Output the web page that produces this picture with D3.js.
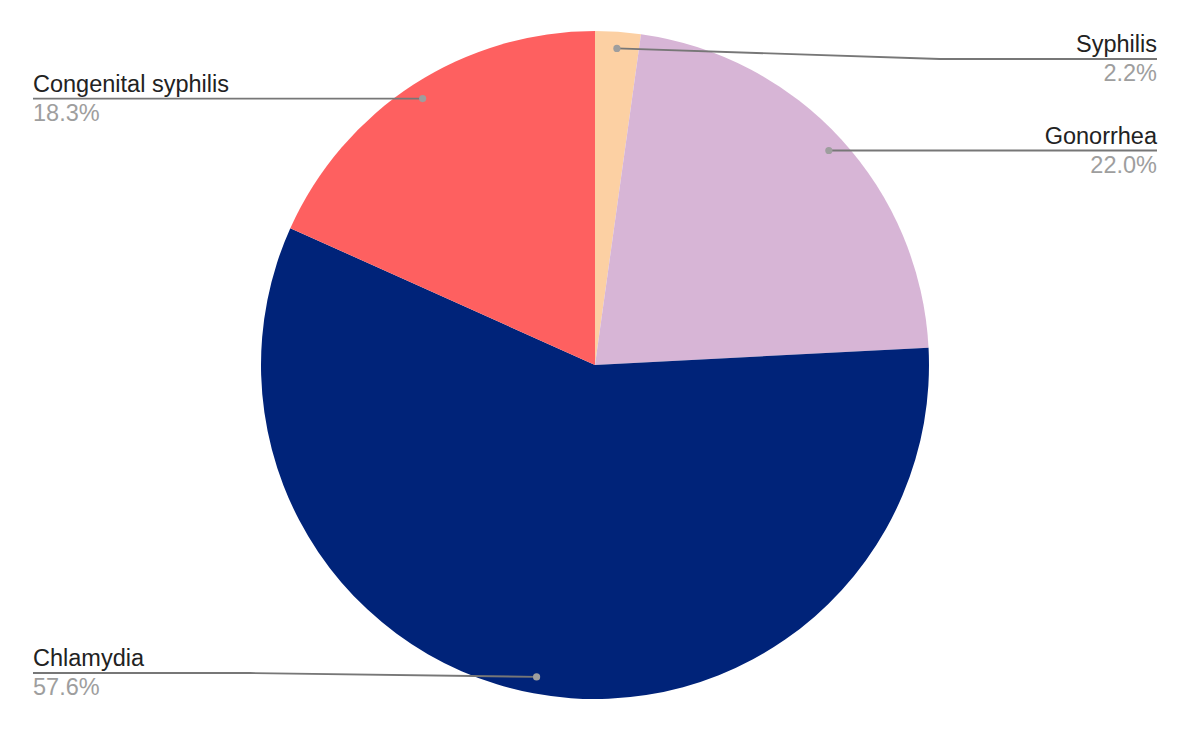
<!DOCTYPE html>
<html>
<head>
<meta charset="utf-8">
<script src="https://cdn.jsdelivr.net/npm/d3@7"></script>
<style>
  body { margin: 0; background: #fff; }
  text { font-family: "Liberation Sans", Arial, sans-serif; }
</style>
</head>
<body>
<svg id="chart" width="1191" height="734"></svg>
<script>
// data, clockwise from 12 o'clock
const categories = ['Syphilis', 'Gonorrhea', 'Chlamydia', 'Congenital syphilis'];
const values = [2.2, 22.0, 57.6, 18.3];
const colors = ['#fcd0a3', '#d7b5d6', '#002379', '#fe6060'];

const svg = d3.select('#chart');
const cx = 595, cy = 365, radius = 334;
const labelLeft = 33, labelRight = 1157;
const lineTop = 59, lineBottom = 673;

const pie = d3.pie().sort(null).value(d => d.value);
const arcs = pie(categories.map((c, i) => ({ name: c, value: values[i], color: colors[i] })));

const arc = d3.arc().innerRadius(0).outerRadius(radius);
const dotArc = d3.arc().innerRadius(radius * 0.95).outerRadius(radius * 0.95);

const g = svg.append('g').attr('transform', `translate(${cx},${cy})`);

g.selectAll('path.slice')
  .data(arcs)
  .enter()
  .append('path')
  .attr('class', 'slice')
  .attr('d', arc)
  .attr('fill', d => d.data.color);

// labels with leader lines
arcs.forEach(d => {
  const [dx, dy] = dotArc.centroid(d);
  const px = cx + dx, py = cy + dy;
  const mid = (d.startAngle + d.endAngle) / 2;
  const right = mid < Math.PI;
  const ly = Math.max(lineTop, Math.min(lineBottom, py));
  const elbowX = right ? cx + radius + 11 : cx - radius - 11;
  const endX = right ? labelRight : labelLeft;

  const pts = Math.abs(ly - py) > 0.5
    ? [[px, py], [elbowX, ly], [endX, ly]]
    : [[px, py], [endX, ly]];

  svg.append('path')
    .attr('d', d3.line()(pts))
    .attr('fill', 'none')
    .attr('stroke', '#777777')
    .attr('stroke-width', 1.8);

  svg.append('circle')
    .attr('cx', px).attr('cy', py).attr('r', 3.6)
    .attr('fill', '#9e9e9e');

  const anchor = right ? 'end' : 'start';
  svg.append('text')
    .attr('x', endX).attr('y', ly - 7)
    .attr('text-anchor', anchor)
    .attr('font-size', 23.5)
    .attr('fill', '#222222')
    .text(d.data.name);

  svg.append('text')
    .attr('x', endX).attr('y', ly + 22)
    .attr('text-anchor', anchor)
    .attr('font-size', 23.5)
    .attr('fill', '#9e9e9e')
    .text(d.data.value.toFixed(1) + '%');
});
</script>
</body>
</html>
